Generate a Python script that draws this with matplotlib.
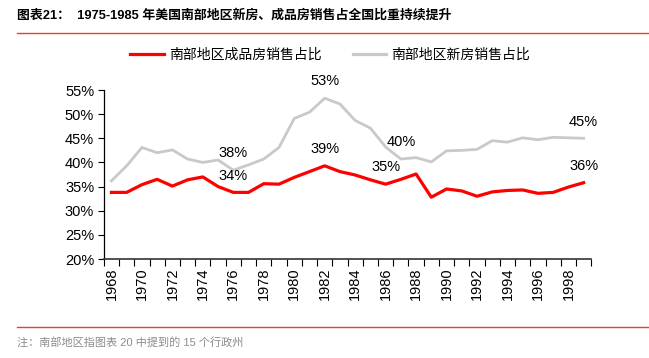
import matplotlib
matplotlib.use("Agg")
import matplotlib.pyplot as plt
from matplotlib.lines import Line2D
from matplotlib.ticker import FixedLocator, FuncFormatter

plt.rcParams['font.family'] = ['Liberation Sans', 'Noto Sans CJK SC', 'DejaVu Sans']

# data
years = list(range(1968, 2000))
finished_share = [33.8, 33.8, 35.4, 36.5, 35.1, 36.4, 37.0, 35.0, 33.8, 33.8,
                  35.6, 35.5, 36.9, 38.1, 39.3, 38.1, 37.4, 36.4, 35.5, 36.5,
                  37.6, 32.8, 34.5, 34.1, 33.0, 33.9, 34.2, 34.3, 33.6, 33.8,
                  34.9, 35.8]
new_share = [36.2, 39.3, 43.1, 42.0, 42.6, 40.7, 40.0, 40.5, 38.4, 39.5,
             40.7, 43.1, 49.1, 50.4, 53.3, 52.1, 48.7, 47.1, 43.2, 40.7,
             41.0, 40.1, 42.4, 42.5, 42.7, 44.5, 44.2, 45.1, 44.7, 45.2,
             45.1, 45.0]
series_names = ['南部地区成品房销售占比', '南部地区新房销售占比']

# labelled points: (year, series index, text)
labels = [(1976, 1, '38%'), (1976, 0, '34%'), (1982, 1, '53%'), (1982, 0, '39%'),
          (1987, 1, '40%'), (1986, 0, '35%'), (1999, 1, '45%'), (1999, 0, '36%')]

title = '图表21：  1975-1985 年美国南部地区新房、成品房销售占全国比重持续提升'
note = '注：南部地区指图表 20 中提到的 15 个行政州'

RED = '#FF0000'
GRAY = '#C9C9C9'
CJK = ['Noto Sans CJK SC', 'DejaVu Sans']

fig = plt.figure(figsize=(6.49, 3.58), dpi=100)
ax = fig.add_axes([0.160, 0.2765, 0.751, 0.4721])

x = list(range(len(years)))
ax.plot(x, new_share, color=GRAY, lw=2.0, solid_joinstyle='round')
ax.plot(x, finished_share, color=RED, lw=2.3, solid_joinstyle='round')

series = [finished_share, new_share]
for yr, si, txt in labels:
    i = years.index(yr)
    ax.annotate(txt, (i, series[si][i]), xytext=(0, 7), textcoords='offset points',
                ha='center', va='bottom', fontsize=10.5)

ax.set_xlim(-0.5, len(years) - 0.5)
ax.set_ylim(20, 55)
ax.set_yticks(range(20, 56, 5))
ax.yaxis.set_major_formatter(FuncFormatter(lambda v, p: f'{v:.0f}%'))
ax.tick_params(axis='y', labelsize=10.5, length=4, width=0.8, pad=3)

ax.set_xticks(x[::2])
ax.set_xticklabels([str(y) for y in years[::2]], rotation=90)
ax.xaxis.set_minor_locator(FixedLocator([i - 0.5 for i in range(len(years) + 1)]))
ax.tick_params(axis='x', which='major', length=0, labelsize=10.5, pad=6)
ax.tick_params(axis='x', which='minor', length=5, width=0.8)

for s in ['top', 'right']:
    ax.spines[s].set_visible(False)
ax.spines['left'].set_linewidth(0.9)
ax.spines['bottom'].set_linewidth(1.2)
ax.spines['bottom'].set_color('#333333')

handles = [Line2D([], [], color=RED, lw=2.3), Line2D([], [], color=GRAY, lw=2.3)]
fig.legend(handles, series_names, loc='center', bbox_to_anchor=(0.509, 1 - 55 / 358),
           ncol=2, frameon=False, prop={'family': CJK, 'size': 10},
           handlelength=2.4, handletextpad=0.4, columnspacing=2.2)

fig.text(17 / 649, 1 - 15 / 358, title, fontsize=9.3, fontweight='bold',
         family=['Liberation Sans', 'Noto Sans CJK SC'], va='center', ha='left')
fig.add_artist(Line2D([17 / 649, 648 / 649], [1 - 33 / 358] * 2, color='#E8402A', lw=1.0))
fig.add_artist(Line2D([17 / 649, 648 / 649], [1 - 327 / 358] * 2, color='#E8402A', lw=1.0))
fig.text(17 / 649, 1 - 342 / 358, note, fontsize=8, color='#8C8C8C',
         family=['Liberation Sans', 'Noto Sans CJK SC'], va='center', ha='left')

fig.savefig('out.png', dpi=100)
